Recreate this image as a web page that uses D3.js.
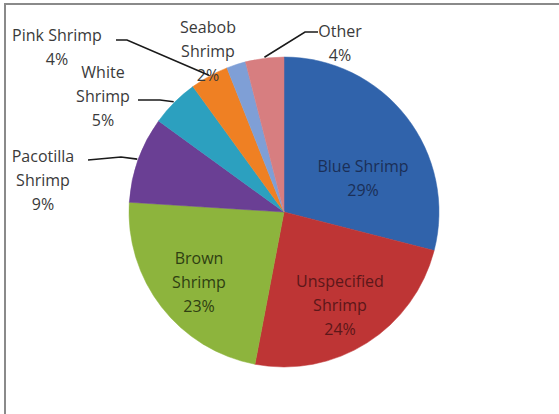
<!DOCTYPE html>
<html>
<head>
<meta charset="utf-8">
<script src="https://cdn.jsdelivr.net/npm/d3@7"></script>
<style>
  html, body { margin: 0; padding: 0; background: #ffffff; }
  svg { display: block; }
  text { font-family: "Open Sans", "Lato", sans-serif; font-size: 16px; }
</style>
</head>
<body>
<svg id="chart" width="559" height="414"></svg>
<script>
// Shrimp catch composition (percent of total)
const categories = ["Blue Shrimp", "Unspecified Shrimp", "Brown Shrimp", "Pacotilla Shrimp",
                    "White Shrimp", "Pink Shrimp", "Seabob Shrimp", "Other"];
const shares = [29, 24, 23, 9, 5, 4, 2, 4];
const sliceColors = ["#3063ab", "#be3535", "#8db43d", "#6a3f94", "#2ca0bf", "#ef8023", "#7f9fd6", "#d77e80"];

// Lines of each slice's data label
const labelLines = [
  ["Blue Shrimp", "29%"],
  ["Unspecified", "Shrimp", "24%"],
  ["Brown", "Shrimp", "23%"],
  ["Pacotilla", "Shrimp", "9%"],
  ["White", "Shrimp", "5%"],
  ["Pink Shrimp", "4%"],
  ["Seabob", "Shrimp", "2%"],
  ["Other", "4%"]
];

const svg = d3.select("#chart");

// outer frame (runs off the right and bottom edges)
svg.append("rect")
  .attr("x", 5).attr("y", 4).attr("width", 700).attr("height", 600)
  .attr("fill", "none").attr("stroke", "#8a8a8a").attr("stroke-width", 2);

const cx = 284, cy = 212, R = 155;
const g = svg.append("g").attr("transform", `translate(${cx},${cy})`);

const pie = d3.pie().sort(null).value(d => d).startAngle(0).endAngle(2 * Math.PI);
const arcs = pie(shares);
const arc = d3.arc().innerRadius(0).outerRadius(R);

g.selectAll("path.slice")
  .data(arcs)
  .join("path")
  .attr("class", "slice")
  .attr("d", arc)
  .attr("fill", (d, i) => sliceColors[i])
  .attr("stroke", (d, i) => sliceColors[i])
  .attr("stroke-width", 0.5);

// Point on the rim at the middle of a slice, in page coordinates
function rimPoint(d, r) {
  const a = (d.startAngle + d.endAngle) / 2;
  return [cx + r * Math.sin(a), cy - r * Math.cos(a)];
}

// first-line anchor of each label
const labelPos = [
  [363, 166], [340, 281], [199, 258],
  [43, 156], [103, 72], [57, 35], [208, 27], [340, 31]
];
// leader line start points (next to label text) and elbows
const leaders = {
  3: [[88, 160], [121, 157]],
  4: [[138, 100], [160, 100]],
  5: [[116, 40], [127, 40]],
  7: [[318, 32], [305, 32]]
};
const labelColors = ["#1b2f57", "#5c1719", "#2f3f12", "#3a3a3a", "#3a3a3a", "#3a3a3a", "#3a3a3a", "#3a3a3a"];

arcs.forEach((d, i) => {
  const [x, y] = labelPos[i];
  const t = svg.append("text")
    .attr("text-anchor", "middle")
    .attr("fill", labelColors[i]);
  labelLines[i].forEach((line, k) => {
    t.append("tspan").attr("x", x).attr("y", y + k * 24).attr("dy", "0.35em").text(line);
  });
});

// leader lines from labels to slice rims
Object.keys(leaders).forEach(key => {
  const i = +key;
  const pts = leaders[i].concat([rimPoint(arcs[i], R + 1)]);
  svg.append("path")
    .attr("d", d3.line()(pts))
    .attr("fill", "none")
    .attr("stroke", "#1a1a1a")
    .attr("stroke-width", 1.6);
});
</script>
</body>
</html>
